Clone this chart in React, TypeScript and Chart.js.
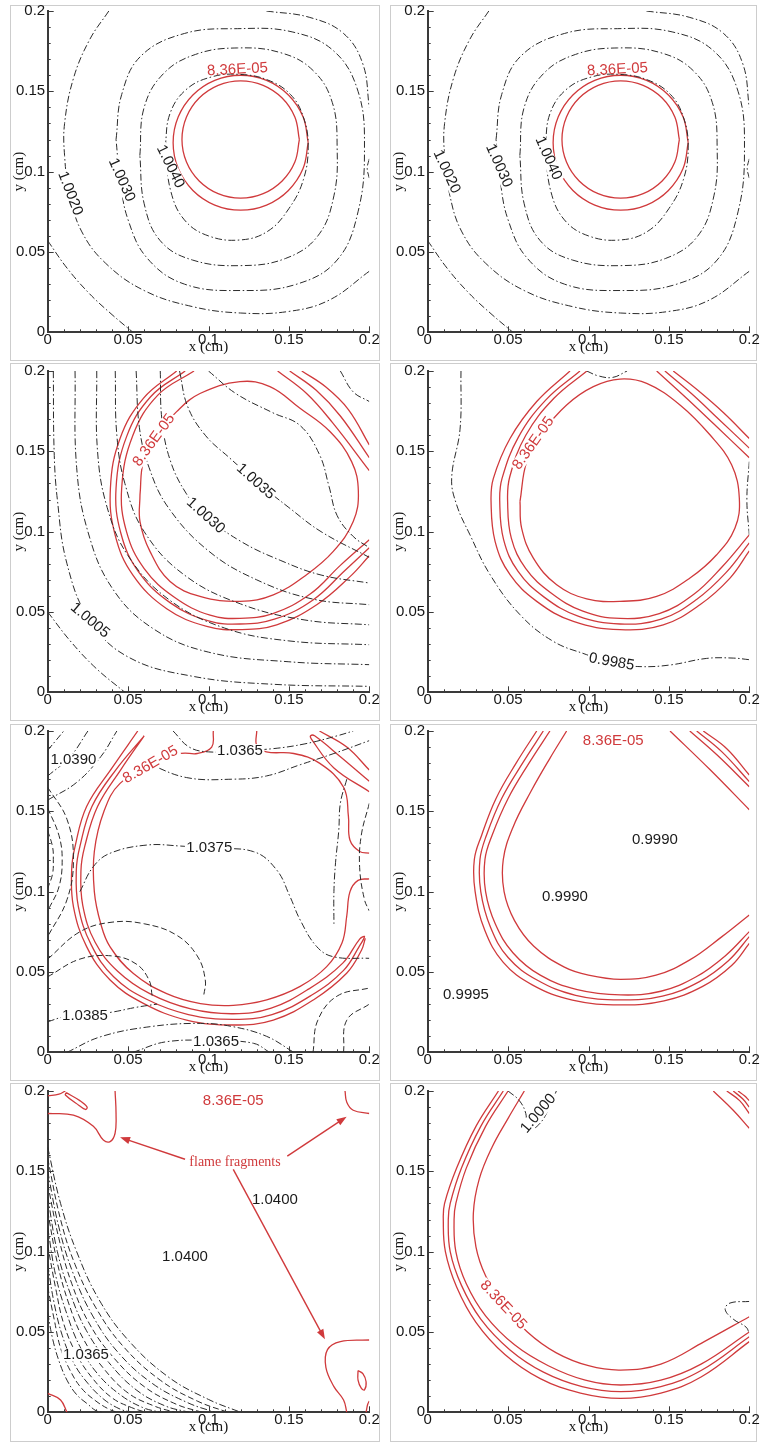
import React, { useEffect, useRef } from 'react';
import { Chart, registerables } from 'chart.js';

Chart.register(...registerables);

type Pt = [number, number];
type Lbl = [string, number, number, number];

const SANS = '"Liberation Sans", Arial, sans-serif';
const SERIF = '"Liberation Serif", "Times New Roman", serif';
const RED = '#d03a3c';
const INK = '#2b2b2b';
const AXIS = '#3a3a3a';

const AXIS_TICKS = [0, 0.05, 0.1, 0.15, 0.2];
const TICK_LABELS = ['0', '0.05', '0.1', '0.15', '0.2'];

// ---------- Panels 1 & 2 ----------
const P12_RED: Pt[][] = [
  [[0.162,0.118],[0.1588,0.1341],[0.1497,0.1477],[0.1361,0.1568],[0.12,0.16],[0.1039,0.1568],[0.0903,0.1477],[0.0812,0.1341],[0.078,0.118],[0.0812,0.1019],[0.0903,0.0883],[0.1039,0.0792],[0.12,0.076],[0.1361,0.0792],[0.1497,0.0883],[0.1588,0.1019],[0.162,0.118]],
  [[0.1565,0.12],[0.1537,0.134],[0.1458,0.1458],[0.134,0.1537],[0.12,0.1565],[0.106,0.1537],[0.0942,0.1458],[0.0863,0.134],[0.0835,0.12],[0.0863,0.106],[0.0942,0.0942],[0.106,0.0863],[0.12,0.0835],[0.134,0.0863],[0.1458,0.0942],[0.1537,0.106],[0.1565,0.12]],
];
const P12_BLACK: Pt[][] = [
  [[0,0.057],[0.012,0.04],[0.026,0.024],[0.04,0.011],[0.053,0]],
  [[0.038,0.2],[0.026,0.182],[0.016,0.158],[0.0105,0.13],[0.0105,0.11],[0.0135,0.0865],[0.021,0.063],[0.036,0.043],[0.06,0.026],[0.09,0.016],[0.12,0.012],[0.15,0.013],[0.175,0.02],[0.2,0.038]],
  [[0.136,0.2],[0.163,0.196],[0.184,0.186],[0.196,0.167],[0.2,0.14]],
  [[0.2,0.108],[0.1987,0.102],[0.2,0.096]],
  [[0.0425,0.12],[0.046,0.148],[0.058,0.172],[0.085,0.186],[0.118,0.189],[0.152,0.187],[0.178,0.175],[0.193,0.15],[0.197,0.115],[0.193,0.075],[0.18,0.045],[0.155,0.03],[0.12,0.026],[0.085,0.03],[0.062,0.046],[0.05,0.07],[0.045,0.095],[0.0425,0.12]],
  [[0.0573,0.11],[0.06,0.14],[0.072,0.161],[0.092,0.173],[0.118,0.177],[0.145,0.174],[0.165,0.163],[0.177,0.143],[0.18,0.115],[0.178,0.085],[0.168,0.06],[0.148,0.046],[0.12,0.0415],[0.09,0.045],[0.07,0.057],[0.06,0.08],[0.0573,0.11]],
  [[0.073,0.115],[0.076,0.136],[0.086,0.151],[0.102,0.159],[0.12,0.1605],[0.137,0.157],[0.151,0.148],[0.159,0.134],[0.162,0.116],[0.159,0.095],[0.15,0.077],[0.137,0.063],[0.12,0.0575],[0.1,0.06],[0.085,0.07],[0.0765,0.088],[0.073,0.115]],
];
const P1_LABELS: Lbl[] = [['1.0020',0.0139,0.0865,69],['1.0030',0.046,0.0948,66],['1.0040',0.0763,0.1031,64]];
const P2_LABELS: Lbl[] = [['1.0020',0.0118,0.1,65],['1.0030',0.0443,0.1037,66],['1.0040',0.075,0.1083,66]];
const P12_FREE_RED: Lbl[] = [['8.36E-05',0.118,0.1635,-3]];

// ---------- Panel 3 ----------
const P3_RED: Pt[][] = [
  [[0.0574,0.1229],[0.0595,0.1436],[0.0678,0.16],[0.0802,0.1747],[0.0947,0.186],[0.1196,0.1934],[0.1382,0.1903],[0.1569,0.1768],[0.1755,0.1623],[0.189,0.1436],[0.1932,0.125],[0.19,0.1063],[0.1776,0.0877],[0.161,0.0732],[0.1403,0.0607],[0.1196,0.0566],[0.0947,0.0597],[0.0761,0.069],[0.0636,0.0877],[0.0574,0.1063],[0.0574,0.1229]],
  [[0.0802,0.2],[0.0595,0.183],[0.045,0.158],[0.039,0.127],[0.0419,0.098],[0.053,0.073],[0.074,0.052],[0.0989,0.041],[0.1196,0.039],[0.1424,0.042],[0.1673,0.0545],[0.188,0.072],[0.2,0.085]],
  [[0.0855,0.2],[0.064,0.184],[0.049,0.159],[0.0425,0.127],[0.0455,0.099],[0.0565,0.075],[0.0765,0.0555],[0.1,0.0445],[0.1196,0.0425],[0.141,0.0455],[0.165,0.0575],[0.185,0.076],[0.2,0.09]],
  [[0.091,0.2],[0.0685,0.185],[0.053,0.16],[0.046,0.127],[0.049,0.1],[0.06,0.077],[0.079,0.059],[0.101,0.048],[0.1196,0.046],[0.14,0.049],[0.163,0.061],[0.182,0.079],[0.2,0.095]],
  [[0.158,0.2],[0.173,0.19],[0.187,0.176],[0.2,0.154]],
  [[0.1505,0.2],[0.167,0.188],[0.182,0.172],[0.2,0.146]],
  [[0.143,0.2],[0.161,0.186],[0.177,0.168],[0.2,0.138]],
];
const P3_BLACK: Pt[][] = [
  [[0,0.05],[0.014,0.032],[0.03,0.015],[0.048,0]],
  [[0.0035,0.2],[0.004,0.15],[0.006,0.12],[0.012,0.08],[0.026,0.045],[0.05,0.022],[0.09,0.01],[0.14,0.005],[0.2,0.0037]],
  [[0.017,0.2],[0.018,0.14],[0.025,0.1],[0.04,0.065],[0.065,0.04],[0.1,0.025],[0.15,0.019],[0.2,0.0172]],
  [[0.0305,0.2],[0.031,0.15],[0.037,0.115],[0.05,0.085],[0.075,0.058],[0.11,0.04],[0.15,0.032],[0.2,0.0296]],
  [[0.042,0.2],[0.043,0.16],[0.048,0.13],[0.06,0.1],[0.085,0.073],[0.12,0.055],[0.16,0.045],[0.2,0.042]],
  [[0.055,0.2],[0.057,0.165],[0.063,0.14],[0.075,0.115],[0.1,0.088],[0.13,0.07],[0.165,0.058],[0.2,0.0545]],
  [[0.07,0.2],[0.071,0.17],[0.076,0.145],[0.086,0.124],[0.098,0.11],[0.12,0.094],[0.145,0.082],[0.17,0.073],[0.2,0.068]],
  [[0.082,0.2],[0.087,0.178],[0.098,0.16],[0.113,0.146],[0.13,0.131],[0.15,0.115],[0.17,0.1],[0.2,0.084]],
  [[0.1,0.2],[0.117,0.186],[0.14,0.174],[0.157,0.166],[0.169,0.148],[0.175,0.128],[0.18,0.11],[0.19,0.097],[0.2,0.09]],
  [[0.182,0.2],[0.19,0.187],[0.2,0.181]],
];
const P3_LABELS: Lbl[] = [['1.0035',0.1293,0.1312,42],['1.0030',0.0982,0.11,42],['1.0005',0.0263,0.0448,40]];
const P3_RED_LABELS: Lbl[] = [['8.36E-05',0.0661,0.157,-54]];

// ---------- Panel 4 ----------
const P4_RED: Pt[][] = [
  [[0.0574,0.1188],[0.0616,0.1436],[0.0719,0.1623],[0.0864,0.1789],[0.103,0.1903],[0.1196,0.195],[0.1362,0.1923],[0.1569,0.1789],[0.1755,0.1603],[0.189,0.1416],[0.1938,0.1208],[0.1911,0.1022],[0.1797,0.0856],[0.1631,0.0711],[0.1424,0.0597],[0.1196,0.0566],[0.0989,0.0582],[0.0802,0.0669],[0.0657,0.0835],[0.0584,0.1022],[0.0574,0.1188]],
  [[0.0885,0.2],[0.0678,0.181],[0.0512,0.158],[0.0408,0.133],[0.0394,0.1188],[0.0419,0.0939],[0.0512,0.0732],[0.0678,0.0566],[0.0906,0.0441],[0.1196,0.039],[0.1465,0.042],[0.1693,0.0545],[0.188,0.0711],[0.2,0.088]],
  [[0.0947,0.2],[0.0735,0.182],[0.0565,0.159],[0.0462,0.133],[0.0448,0.1188],[0.0472,0.095],[0.0562,0.0752],[0.0722,0.0594],[0.0935,0.0474],[0.1196,0.0425],[0.1452,0.0455],[0.1672,0.0578],[0.1855,0.0745],[0.2,0.093]],
  [[0.099,0.2],[0.0785,0.183],[0.061,0.16],[0.051,0.134],[0.0497,0.1188],[0.052,0.096],[0.061,0.077],[0.0765,0.062],[0.0965,0.0505],[0.1196,0.046],[0.144,0.049],[0.1655,0.061],[0.183,0.078],[0.2,0.098]],
  [[0.1527,0.2],[0.168,0.188],[0.184,0.174],[0.2,0.158]],
  [[0.1475,0.2],[0.164,0.186],[0.181,0.17],[0.2,0.152]],
  [[0.1424,0.2],[0.16,0.184],[0.178,0.167],[0.2,0.146]],
];
const P4_BLACK: Pt[][] = [
  [[0.0207,0.2],[0.0201,0.1637],[0.0149,0.1333],[0.018,0.1167],[0.0263,0.098],[0.0388,0.0732],[0.0574,0.0483],[0.0781,0.0317],[0.0989,0.0234],[0.1144,0.0182],[0.132,0.016],[0.1507,0.017],[0.1735,0.0211],[0.19,0.0213],[0.2,0.0203]],
  [[0.0989,0.2],[0.106,0.197],[0.115,0.196],[0.124,0.2]],
  [[0.2,0.1436],[0.1985,0.12],[0.2,0.098]],
];
const P4_LABELS: Lbl[] = [['0.9985',0.1144,0.0189,10]];
const P4_RED_LABELS: Lbl[] = [['8.36E-05',0.0657,0.155,-55]];

// ---------- Panel 5 ----------
const P5_RED: Pt[][] = [
  [[0.103,0.2],[0.102,0.19],[0.093,0.186],[0.083,0.186],[0.064,0.178],[0.045,0.1674],[0.035,0.15],[0.029,0.125],[0.029,0.1],[0.033,0.08],[0.0388,0.0656],[0.0533,0.049],[0.074,0.0365],[0.095,0.0303],[0.1154,0.0292],[0.1362,0.0326],[0.157,0.041],[0.1735,0.0533],[0.183,0.068],[0.186,0.085],[0.188,0.1],[0.193,0.107],[0.2,0.108]],
  [[0.13,0.2],[0.13,0.191],[0.136,0.187],[0.153,0.186],[0.169,0.18],[0.184,0.165],[0.187,0.147],[0.188,0.132],[0.194,0.125],[0.2,0.124]],
  [[0.056,0.2],[0.04,0.177],[0.0242,0.153],[0.017,0.128],[0.0149,0.1135],[0.016,0.0907],[0.0242,0.0658],[0.0388,0.045],[0.0595,0.0305],[0.0864,0.0201],[0.1154,0.017],[0.1403,0.0201],[0.1652,0.0326],[0.1859,0.0492],[0.1952,0.0637],[0.1975,0.071]],
  [[0.06,0.197],[0.0425,0.176],[0.0275,0.153],[0.02,0.128],[0.0178,0.1135],[0.019,0.091],[0.027,0.067],[0.041,0.047],[0.0615,0.033],[0.0875,0.0235],[0.1154,0.0205],[0.1395,0.0235],[0.164,0.0355],[0.184,0.051],[0.1935,0.0655],[0.197,0.072],[0.194,0.0705],[0.1835,0.0555],[0.1625,0.0395],[0.139,0.0275],[0.1154,0.024],[0.089,0.027],[0.0635,0.0365],[0.0435,0.0505],[0.0295,0.0685],[0.0218,0.0915],[0.0207,0.1135],[0.023,0.128],[0.031,0.153],[0.0455,0.176],[0.06,0.197]],
  [[0.169,0.2],[0.186,0.19],[0.2,0.1757]],
  [[0.2,0.1687],[0.182,0.184],[0.166,0.197],[0.1635,0.197],[0.164,0.195],[0.178,0.177],[0.2,0.1622]],
];
const P5_BLACK: Pt[][] = [
  [[0,0.188],[0.005,0.194],[0.01,0.2]],
  [[0,0.172],[0.014,0.184],[0.025,0.2]],
  [[0,0.157],[0.018,0.168],[0.033,0.184],[0.043,0.2]],
  [[0.02,0.1],[0.0284,0.1156],[0.0388,0.1239],[0.0616,0.129],[0.0823,0.1284],[0.1005,0.1268],[0.128,0.1249],[0.1424,0.1135],[0.1507,0.0969],[0.157,0.0824],[0.1673,0.0658],[0.1776,0.0595],[0.2,0.0585]],
  [[0.0616,0.18],[0.0864,0.171],[0.115,0.17],[0.136,0.172],[0.157,0.179],[0.178,0.186],[0.2,0.194]],
  [[0.078,0.2],[0.088,0.19],[0.1,0.187],[0.1196,0.1878],[0.14,0.189],[0.16,0.192],[0.18,0.197],[0.19,0.2]],
  [[0.186,0.17],[0.182,0.155],[0.181,0.138],[0.179,0.118],[0.178,0.1],[0.178,0.08]],
  [[0,0.019],[0.01,0.022],[0.0232,0.0228],[0.04,0.025],[0.055,0.028],[0.068,0.03]],
  [[0.012,0],[0.033,0.0097],[0.064,0.016],[0.095,0.018],[0.115,0.016],[0.136,0.01],[0.153,0]],
  [[0.053,0],[0.074,0.0066],[0.1047,0.0072],[0.128,0.0056],[0.138,0]],
];
const P5_DASHED: Pt[][] = [
  [[0,0.165],[0.012,0.145],[0.016,0.12],[0.012,0.095],[0,0.072]],
  [[0,0.152],[0.007,0.135],[0.009,0.12],[0.007,0.103],[0,0.088]],
  [[0,0.138],[0.003,0.128],[0.0035,0.12],[0.003,0.111],[0,0.102]],
  [[0.2,0.155],[0.195,0.135],[0.194,0.115],[0.197,0.095],[0.2,0.088]],
  [[0,0.058],[0.02,0.075],[0.04,0.081],[0.06,0.08],[0.08,0.073],[0.093,0.06],[0.098,0.045],[0.097,0.035]],
  [[0,0.047],[0.02,0.058],[0.04,0.06],[0.055,0.055],[0.063,0.045],[0.065,0.035]],
  [[0.165,0],[0.168,0.02],[0.18,0.035],[0.2,0.04]],
  [[0.184,0],[0.186,0.02],[0.2,0.03]],
];
const P5_LABELS: Lbl[] = [['1.0390',0.016,0.182,0],['1.0365',0.1196,0.1878,0],['1.0375',0.1005,0.127,0],['1.0385',0.0232,0.0228,0],['1.0365',0.1047,0.0066,0]];
const P5_RED_LABELS: Lbl[] = [['8.36E-05',0.064,0.179,-30]];

// ---------- Panel 6 ----------
const P6_RED: Pt[][] = [
  [[0.0864,0.2],[0.076,0.183],[0.064,0.162],[0.053,0.14],[0.047,0.12],[0.0475,0.1],[0.054,0.082],[0.066,0.066],[0.085,0.053],[0.1,0.048],[0.12,0.0454],[0.142,0.048],[0.163,0.0575],[0.183,0.072],[0.2,0.0855]],
  [[0.076,0.2],[0.063,0.18],[0.05,0.158],[0.04,0.135],[0.0356,0.12],[0.036,0.1],[0.042,0.08],[0.053,0.062],[0.07,0.048],[0.093,0.039],[0.12,0.0357],[0.145,0.038],[0.167,0.047],[0.185,0.06],[0.2,0.0751]],
  [[0.0719,0.2],[0.059,0.18],[0.046,0.158],[0.0365,0.135],[0.0325,0.12],[0.033,0.1],[0.039,0.078],[0.05,0.059],[0.068,0.045],[0.092,0.0355],[0.12,0.0326],[0.146,0.035],[0.169,0.044],[0.187,0.057],[0.2,0.072]],
  [[0.0678,0.2],[0.055,0.18],[0.0425,0.158],[0.0335,0.135],[0.029,0.12],[0.0295,0.1],[0.0355,0.076],[0.047,0.056],[0.065,0.042],[0.09,0.0325],[0.12,0.0295],[0.147,0.032],[0.171,0.041],[0.189,0.054],[0.2,0.0678]],
  [[0.1507,0.2],[0.1755,0.176],[0.2,0.151]],
  [[0.163,0.2],[0.18,0.185],[0.2,0.1653]],
  [[0.1673,0.2],[0.183,0.187],[0.2,0.1685]],
  [[0.1714,0.2],[0.186,0.189],[0.2,0.1726]],
];
const P6_FREE: Lbl[] = [['0.9990',0.1413,0.1322,0],['0.9990',0.0854,0.0969,0],['0.9995',0.0238,0.0357,0]];
const P67_FREE_RED: Lbl[] = [['8.36E-05',0.1154,0.194,0]];

// ---------- Panel 7 ----------
const P7_RED: Pt[][] = [
  [[0,0.186],[0.016,0.185],[0.0284,0.178],[0.0346,0.1695],[0.0388,0.1685],[0.0419,0.1737],[0.0425,0.186],[0.0419,0.2]],
  [[0.0115,0.199],[0.02,0.194],[0.0245,0.19],[0.0235,0.1885],[0.0195,0.191],[0.011,0.1975],[0.0115,0.199]],
  [[0,0.197],[0.007,0.198],[0.011,0.2]],
  [[0.1849,0.2],[0.186,0.193],[0.19,0.188],[0.2,0.186]],
  [[0.2,0.045],[0.182,0.044],[0.174,0.039],[0.173,0.028],[0.178,0.016],[0.184,0.0077],[0.186,0]],
  [[0.193,0.026],[0.196,0.024],[0.198,0.019],[0.197,0.014],[0.195,0.015],[0.193,0.02],[0.193,0.026]],
  [[0.198,0],[0.199,0.005],[0.2,0.007]],
  [[0,0.0118],[0.008,0.0077],[0.012,0]],
];
const P7_BLACK: Pt[][] = [
  [[0,0.165],[0.008,0.13],[0.018,0.1],[0.032,0.07],[0.05,0.045],[0.075,0.022],[0.1,0.008],[0.12,0]],
  [[0,0.15],[0.007,0.115],[0.016,0.086],[0.028,0.06],[0.044,0.037],[0.065,0.018],[0.087,0.006],[0.104,0]],
  [[0,0.134],[0.006,0.1],[0.014,0.074],[0.024,0.051],[0.038,0.031],[0.055,0.014],[0.073,0.004],[0.088,0]],
  [[0,0.115],[0.005,0.085],[0.012,0.061],[0.02,0.041],[0.031,0.024],[0.045,0.011],[0.059,0.003],[0.07,0]],
  [[0,0.092],[0.004,0.068],[0.009,0.048],[0.016,0.031],[0.025,0.018],[0.035,0.008],[0.045,0.002],[0.052,0]],
  [[0,0.062],[0.003,0.046],[0.007,0.032],[0.012,0.02],[0.018,0.011],[0.025,0.005],[0.03,0.001],[0.034,0]],
];
const P7_DASHED: Pt[][] = [
  [[0,0.158],[0.008,0.12],[0.017,0.092],[0.03,0.065],[0.047,0.041],[0.07,0.02],[0.093,0.007],[0.112,0]],
  [[0,0.142],[0.007,0.108],[0.015,0.08],[0.026,0.055],[0.041,0.034],[0.06,0.016],[0.08,0.005],[0.096,0]],
  [[0,0.125],[0.006,0.093],[0.013,0.068],[0.022,0.046],[0.035,0.027],[0.05,0.012],[0.066,0.004],[0.079,0]],
  [[0,0.104],[0.005,0.077],[0.01,0.055],[0.018,0.036],[0.028,0.021],[0.04,0.009],[0.052,0.003],[0.061,0]],
  [[0,0.078],[0.004,0.058],[0.008,0.04],[0.014,0.026],[0.021,0.015],[0.03,0.007],[0.038,0.002],[0.043,0]],
];
const P7_LABELS: Lbl[] = [['1.0365',0.0238,0.0357,0]];
const P7_FREE: Lbl[] = [['1.0400',0.1413,0.1322,0],['1.0400',0.0854,0.0965,0]];
const P7_NOTE: Lbl[] = [['flame fragments',0.1165,0.1556,0]];
const P7_ARROWS: [number, number, number, number][] = [
  [0.0854,0.1575,0.045,0.1712],
  [0.149,0.1595,0.1859,0.184],
  [0.1154,0.1512,0.1724,0.0454],
];

// ---------- Panel 8 ----------
const P8_RED: Pt[][] = [
  [[0.0601,0.2],[0.05,0.183],[0.04,0.165],[0.032,0.145],[0.0284,0.124],[0.03,0.103],[0.036,0.085],[0.047,0.067],[0.062,0.05],[0.08,0.037],[0.1,0.029],[0.12,0.0263],[0.145,0.03],[0.172,0.044],[0.2,0.0595]],
  [[0.05,0.2],[0.036,0.178],[0.024,0.152],[0.0175,0.13],[0.0164,0.12],[0.0175,0.1],[0.024,0.08],[0.036,0.06],[0.054,0.042],[0.075,0.029],[0.098,0.02],[0.12,0.017],[0.145,0.02],[0.17,0.03],[0.2,0.05]],
  [[0.047,0.2],[0.033,0.178],[0.021,0.152],[0.014,0.13],[0.0128,0.12],[0.014,0.1],[0.021,0.079],[0.033,0.058],[0.051,0.039],[0.072,0.025],[0.096,0.016],[0.12,0.0129],[0.145,0.016],[0.17,0.026],[0.2,0.047]],
  [[0.044,0.2],[0.03,0.178],[0.018,0.152],[0.0105,0.13],[0.0097,0.12],[0.011,0.1],[0.018,0.078],[0.03,0.056],[0.048,0.036],[0.07,0.021],[0.095,0.012],[0.12,0.0087],[0.145,0.012],[0.17,0.022],[0.2,0.044]],
  [[0.1776,0.2],[0.19,0.188],[0.2,0.1768]],
  [[0.186,0.2],[0.194,0.194],[0.2,0.186]],
  [[0.19,0.2],[0.196,0.195],[0.2,0.19]],
  [[0.193,0.2],[0.197,0.197],[0.2,0.194]],
];
const P8_BLACK: Pt[][] = [
  [[0.05,0.2],[0.057,0.194],[0.061,0.186],[0.062,0.176],[0.068,0.178],[0.075,0.188],[0.08,0.2]],
  [[0.2,0.069],[0.188,0.068],[0.185,0.064],[0.19,0.058],[0.198,0.053],[0.2,0.049]],
];
const P8_LABELS: Lbl[] = [['1.0000',0.0688,0.186,-50]];
const P8_RED_LABELS: Lbl[] = [['8.36E-05',0.047,0.0668,47]];

type PanelCfg = {
  col: number; row: number;
  red: Pt[][]; black: Pt[][]; dashed: Pt[][];
  lineLabels: Lbl[]; redLineLabels: Lbl[]; freeLabels: Lbl[]; freeRedLabels: Lbl[];
  notes?: Lbl[]; arrows?: [number, number, number, number][];
};

const PANELS: PanelCfg[] = [
  { col: 0, row: 0, red: P12_RED, black: P12_BLACK, dashed: [], lineLabels: P1_LABELS, redLineLabels: [], freeLabels: [], freeRedLabels: P12_FREE_RED },
  { col: 1, row: 0, red: P12_RED, black: P12_BLACK, dashed: [], lineLabels: P2_LABELS, redLineLabels: [], freeLabels: [], freeRedLabels: P12_FREE_RED },
  { col: 0, row: 1, red: P3_RED, black: P3_BLACK, dashed: [], lineLabels: P3_LABELS, redLineLabels: P3_RED_LABELS, freeLabels: [], freeRedLabels: [] },
  { col: 1, row: 1, red: P4_RED, black: P4_BLACK, dashed: [], lineLabels: P4_LABELS, redLineLabels: P4_RED_LABELS, freeLabels: [], freeRedLabels: [] },
  { col: 0, row: 2, red: P5_RED, black: P5_BLACK, dashed: P5_DASHED, lineLabels: P5_LABELS, redLineLabels: P5_RED_LABELS, freeLabels: [], freeRedLabels: [] },
  { col: 1, row: 2, red: P6_RED, black: [], dashed: [], lineLabels: [], redLineLabels: [], freeLabels: P6_FREE, freeRedLabels: P67_FREE_RED },
  { col: 0, row: 3, red: P7_RED, black: P7_BLACK, dashed: P7_DASHED, lineLabels: P7_LABELS, redLineLabels: [], freeLabels: P7_FREE, freeRedLabels: P67_FREE_RED, notes: P7_NOTE, arrows: P7_ARROWS },
  { col: 1, row: 3, red: P8_RED, black: P8_BLACK, dashed: [], lineLabels: P8_LABELS, redLineLabels: P8_RED_LABELS, freeLabels: [], freeRedLabels: [] },
];

const FRAME_X = [[10, 370], [390, 367]];
const FRAME_Y = [[5, 356], [363, 358], [724, 357], [1083, 359]];

function makeDatasets(curves: Pt[][], color: string, width: number, dash: number[]) {
  return curves.map((c) => ({
    data: c.map(([x, y]) => ({ x, y })),
    showLine: true,
    borderColor: color,
    backgroundColor: color,
    borderWidth: width,
    borderDash: dash,
    pointRadius: 0,
    pointHoverRadius: 0,
    tension: 0.4,
    fill: false,
  }));
}

function decorPlugin(cfg: PanelCfg) {
  return {
    id: 'decor',
    afterDatasetsDraw(chart: any) {
      const { ctx, chartArea } = chart;
      const xs = chart.scales.x;
      const ys = chart.scales.y;
      ctx.save();
      // inward ticks
      ctx.strokeStyle = AXIS;
      ctx.lineWidth = 1;
      for (let i = 0; i <= 20; i++) {
        const v = i / 100;
        const len = i % 5 === 0 ? 6 : 3;
        const px = Math.round(xs.getPixelForValue(v)) + 0.5;
        ctx.beginPath();
        ctx.moveTo(px, chartArea.bottom);
        ctx.lineTo(px, chartArea.bottom - len);
        ctx.stroke();
        const py = Math.round(ys.getPixelForValue(v)) + 0.5;
        ctx.beginPath();
        ctx.moveTo(chartArea.left, py);
        ctx.lineTo(chartArea.left + len, py);
        ctx.stroke();
      }
      const draw = (l: Lbl, color: string, bg: boolean, font: string) => {
        const [text, x, y, ang] = l;
        const px = xs.getPixelForValue(x);
        const py = ys.getPixelForValue(y);
        ctx.save();
        ctx.translate(px, py);
        ctx.rotate((ang * Math.PI) / 180);
        ctx.font = font;
        ctx.textAlign = 'center';
        ctx.textBaseline = 'middle';
        const w = ctx.measureText(text).width;
        if (bg) {
          ctx.fillStyle = '#ffffff';
          ctx.fillRect(-w / 2 - 1.5, -6.5, w + 3, 13);
        }
        ctx.fillStyle = color;
        ctx.fillText(text, 0, 0);
        ctx.restore();
      };
      const f = `15px ${SANS}`;
      cfg.lineLabels.forEach((l) => draw(l, '#1a1a1a', true, f));
      cfg.redLineLabels.forEach((l) => draw(l, RED, true, f));
      cfg.freeLabels.forEach((l) => draw(l, '#1a1a1a', false, f));
      cfg.freeRedLabels.forEach((l) => draw(l, RED, false, f));
      (cfg.notes || []).forEach((l) => draw(l, RED, false, `14px ${SERIF}`));
      (cfg.arrows || []).forEach(([x0, y0, x1, y1]) => {
        const ax = xs.getPixelForValue(x0), ay = ys.getPixelForValue(y0);
        const bx = xs.getPixelForValue(x1), by = ys.getPixelForValue(y1);
        const a = Math.atan2(by - ay, bx - ax);
        const L = 10, H = 3.6;
        ctx.strokeStyle = RED;
        ctx.fillStyle = RED;
        ctx.lineWidth = 1.4;
        ctx.beginPath();
        ctx.moveTo(ax, ay);
        ctx.lineTo(bx - Math.cos(a) * L * 0.8, by - Math.sin(a) * L * 0.8);
        ctx.stroke();
        ctx.beginPath();
        ctx.moveTo(bx, by);
        ctx.lineTo(bx - Math.cos(a) * L - Math.sin(a) * H, by - Math.sin(a) * L + Math.cos(a) * H);
        ctx.lineTo(bx - Math.cos(a) * L + Math.sin(a) * H, by - Math.sin(a) * L - Math.cos(a) * H);
        ctx.closePath();
        ctx.fill();
      });
      ctx.restore();
    },
  };
}

function Panel({ cfg }: { cfg: PanelCfg }) {
  const ref = useRef<HTMLCanvasElement>(null);
  useEffect(() => {
    if (!ref.current) return;
    const datasets = [
      ...makeDatasets(cfg.black, INK, 1, [7, 2.5, 1.5, 2.5]),
      ...makeDatasets(cfg.dashed, INK, 1, [6, 3]),
      ...makeDatasets(cfg.red, RED, 1.3, []),
    ];
    const axisCommon = (title: string) => ({
      type: 'linear' as const,
      min: 0,
      max: 0.2,
      grid: { display: false, drawTicks: false },
      border: { display: true, color: AXIS, width: 2 },
      afterBuildTicks: (s: any) => {
        s.ticks = AXIS_TICKS.map((v) => ({ value: v }));
      },
      ticks: {
        autoSkip: false,
        maxRotation: 0,
        color: '#151515',
        font: { family: SANS, size: 15, lineHeight: 1 },
        callback: (_v: any, i: number) => TICK_LABELS[i],
      },
      title: {
        display: true,
        text: title,
        color: '#151515',
        font: { family: SERIF, size: 15, lineHeight: 1.2 },
      },
    });
    const xAxis: any = axisCommon('x (cm)');
    xAxis.ticks.padding = 0;
    xAxis.title.padding = { top: 0, bottom: 4 };
    xAxis.afterFit = (s: any) => { s.height = 27.7; };
    const yAxis: any = axisCommon('y (cm)');
    yAxis.ticks.padding = 2.5;
    yAxis.title.padding = { top: 10, bottom: 0 };
    yAxis.afterFit = (s: any) => { s.width = 47.7; };

    const chart = new Chart(ref.current, {
      type: 'scatter',
      data: { datasets: datasets as any },
      options: {
        animation: false,
        responsive: false,
        devicePixelRatio: 1,
        events: [],
        layout: { padding: { left: 0, top: 11, right: 10.7, bottom: 0 } },
        plugins: { legend: { display: false }, tooltip: { enabled: false } },
        scales: { x: xAxis, y: yAxis },
      },
      plugins: [decorPlugin(cfg)],
    });
    return () => chart.destroy();
  }, [cfg]);
  return (
    <canvas
      ref={ref}
      width={380}
      height={360}
      style={{ position: 'absolute', left: cfg.col * 380, top: cfg.row * 360, width: 380, height: 360 }}
    />
  );
}

export default function App() {
  return (
    <div style={{ position: 'absolute', left: 0, top: 0, width: 760, height: 1443, background: '#fff', overflow: 'hidden' }}>
      {PANELS.map((p, i) => (
        <div
          key={'f' + i}
          style={{
            position: 'absolute',
            left: FRAME_X[p.col][0],
            top: FRAME_Y[p.row][0],
            width: FRAME_X[p.col][1],
            height: FRAME_Y[p.row][1],
            border: '1.5px solid #cdcdcd',
            boxSizing: 'border-box',
          }}
        />
      ))}
      {PANELS.map((p, i) => (
        <Panel key={i} cfg={p} />
      ))}
    </div>
  );
}
